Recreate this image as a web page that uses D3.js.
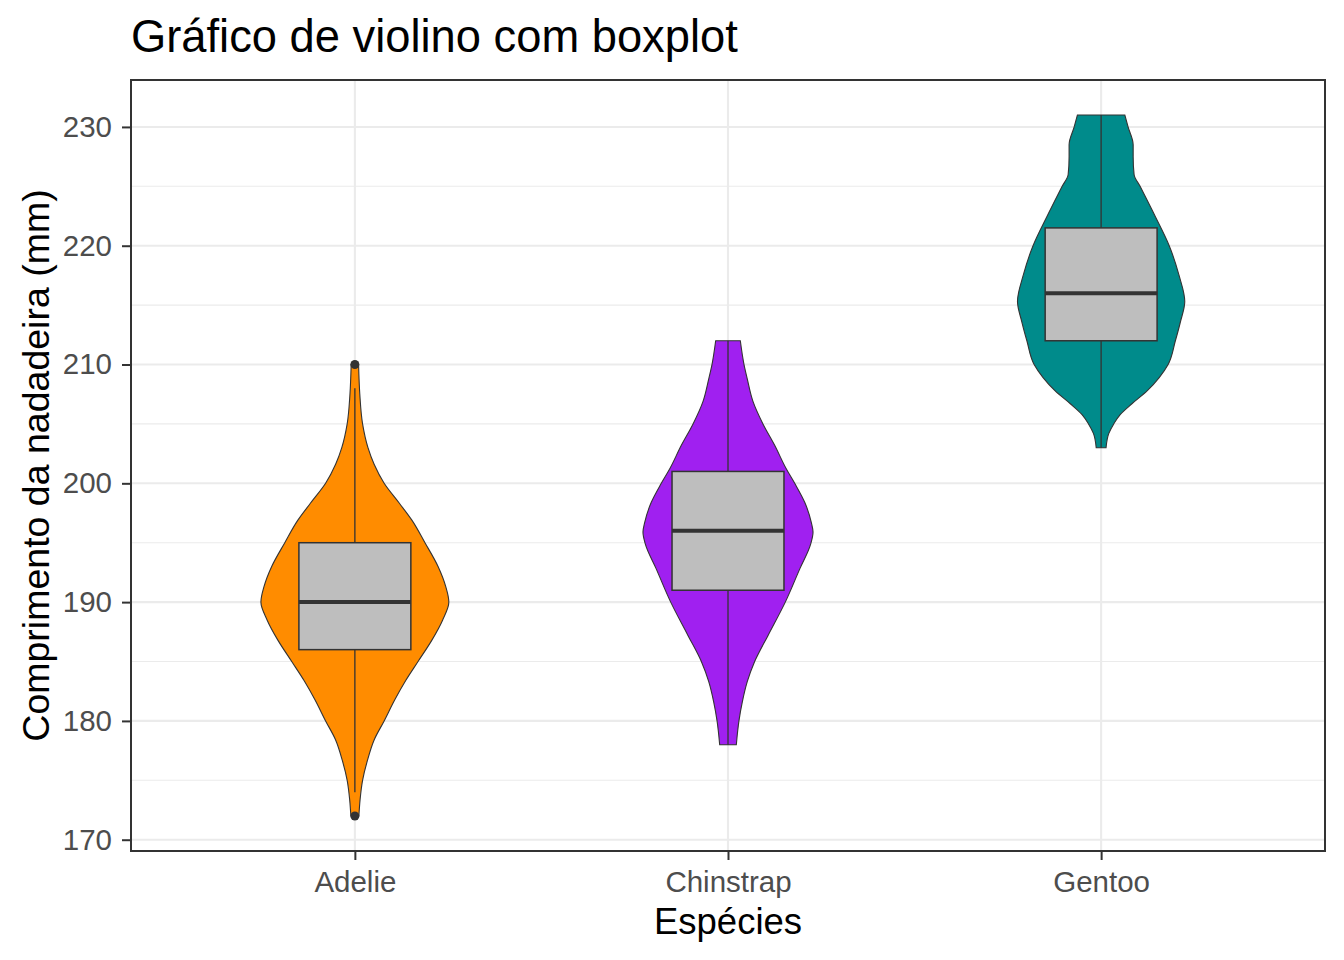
<!DOCTYPE html>
<html lang="pt">
<head>
<meta charset="UTF-8">
<title>Gráfico de violino com boxplot</title>
<script src="https://d3js.org/d3.v7.min.js"></script>
<style>
  body { margin: 0; background: #fff; }
  svg { display: block; font-family: "Liberation Sans", Arial, sans-serif; }
  .grid-major { stroke: #ebebeb; stroke-width: 2.1; }
  .grid-minor { stroke: #ebebeb; stroke-width: 1.1; }
  .tick-label { fill: #4d4d4d; font-size: 29.5px; }
</style>
</head>
<body>
<svg id="chart" width="1344" height="960"></svg>
<script>
// species and colours
const species = ["Adelie", "Chinstrap", "Gentoo"];
const fills = ["#ff8c00", "#a020f0", "#008b8b"];

// boxplot stats
const lowerWhisker = [174, 178, 203];
const q1 = [186, 191, 212];
const median = [190, 196, 216];
const q3 = [195, 201, 221.5];
const upperWhisker = [208, 212, 231];
const outliers = [[172, 210], [], []];

// violin outlines: flipper length and estimated density (x1000)
const adelieY = [172, 173.4, 175, 176.7, 178.4, 180, 181.8, 183.4, 185, 186.8, 188.5, 190, 191.3, 193, 195, 196.9, 198.3, 200, 201.6, 203, 205, 207.5, 210];
const adelieDens = [2.6, 3.4, 5, 8.2, 12.5, 19, 26, 33, 41, 50, 57, 61, 59, 54, 45.5, 37, 29, 19, 12.5, 8.5, 5, 3.2, 2.4];
const chinstrapY = [178, 180, 181.6, 183.3, 185, 187.2, 190, 192.8, 194.9, 195.9, 196.7, 198.4, 200, 201.2, 203.2, 205, 206.9, 208.8, 210, 212];
const chinstrapDens = [5.4, 7.1, 9.3, 12.5, 17.3, 26, 37.2, 46.6, 53.7, 55.2, 54.1, 49.8, 43.3, 37.9, 30.3, 22.7, 16.2, 12.5, 10.4, 8];
const gentooY = [203, 204.2, 205, 205.8, 206.7, 207.8, 208.9, 210, 212, 213.6, 215.3, 217.5, 220, 222.5, 225, 226, 227.5, 228.5, 230, 231];
const gentooDens = [3.2, 5, 8.2, 12.5, 20, 30, 37.7, 43.5, 48.2, 51.5, 54.3, 50.6, 44.2, 35, 25.3, 21.4, 20.8, 20.8, 17.5, 15.4];

const yTicks = [170, 180, 190, 200, 210, 220, 230];
const yMinor = [175, 185, 195, 205, 215, 225];

const violins = [
  d3.zip(adelieY, adelieDens),
  d3.zip(chinstrapY, chinstrapDens),
  d3.zip(gentooY, gentooDens)
];

const svg = d3.select("#chart");
const panel = { left: 131, right: 1325, top: 80, bottom: 851 };

const x = d3.scalePoint().domain(species).range([panel.left, panel.right]).padding(0.6);
const step = x.step();
const dataMin = 172, dataMax = 231, pad = (dataMax - dataMin) * 0.05;
const y = d3.scaleLinear().domain([dataMin - pad, dataMax + pad]).range([panel.bottom, panel.top]);
// density -> half width (violin width 0.9 of a step at the largest density)
const w = d3.scaleLinear().domain([0, 109]).range([0, step * 0.45]);

// grid
const g = svg.append("g");
g.selectAll(".grid-minor").data(yMinor).join("line")
  .attr("class", "grid-minor")
  .attr("x1", panel.left).attr("x2", panel.right)
  .attr("y1", d => y(d)).attr("y2", d => y(d));
g.selectAll(".grid-major.h").data(yTicks).join("line")
  .attr("class", "grid-major h")
  .attr("x1", panel.left).attr("x2", panel.right)
  .attr("y1", d => y(d)).attr("y2", d => y(d));
g.selectAll(".grid-major.v").data(species).join("line")
  .attr("class", "grid-major v")
  .attr("x1", d => x(d)).attr("x2", d => x(d))
  .attr("y1", panel.top).attr("y2", panel.bottom);

// violins
species.forEach((s, i) => {
  const cx = x(s);
  const area = d3.area()
    .y(d => y(d[0]))
    .x0(d => cx - w(d[1]))
    .x1(d => cx + w(d[1]))
    .curve(d3.curveMonotoneY);
  svg.append("path")
    .datum(violins[i])
    .attr("d", area)
    .attr("fill", fills[i])
    .attr("stroke", "#333333")
    .attr("stroke-width", 1.1);
});

// boxplots
const boxW = step * 0.3;
species.forEach((s, i) => {
  const cx = x(s);
  const bg = svg.append("g");
  bg.selectAll("circle").data(outliers[i]).join("circle")
    .attr("cx", cx).attr("cy", d => y(d)).attr("r", 4.5)
    .attr("fill", "#333333");
  bg.append("line").attr("x1", cx).attr("x2", cx)
    .attr("y1", y(q3[i])).attr("y2", y(upperWhisker[i]))
    .attr("stroke", "#333333").attr("stroke-width", 1.3);
  bg.append("line").attr("x1", cx).attr("x2", cx)
    .attr("y1", y(q1[i])).attr("y2", y(lowerWhisker[i]))
    .attr("stroke", "#333333").attr("stroke-width", 1.3);
  bg.append("rect")
    .attr("x", cx - boxW / 2).attr("width", boxW)
    .attr("y", y(q3[i])).attr("height", y(q1[i]) - y(q3[i]))
    .attr("fill", "#bebebe").attr("stroke", "#333333").attr("stroke-width", 1.5);
  bg.append("line")
    .attr("x1", cx - boxW / 2).attr("x2", cx + boxW / 2)
    .attr("y1", y(median[i])).attr("y2", y(median[i]))
    .attr("stroke", "#333333").attr("stroke-width", 4);
});

// panel border
svg.append("rect")
  .attr("x", panel.left).attr("y", panel.top)
  .attr("width", panel.right - panel.left).attr("height", panel.bottom - panel.top)
  .attr("fill", "none").attr("stroke", "#333333").attr("stroke-width", 2);

// axes
const yAxis = svg.append("g")
  .attr("transform", `translate(${panel.left},0)`)
  .call(d3.axisLeft(y).tickValues(yTicks).tickSize(9).tickPadding(10));
const xAxis = svg.append("g")
  .attr("transform", `translate(0,${panel.bottom})`)
  .call(d3.axisBottom(x).tickSize(9).tickPadding(11));
[yAxis, xAxis].forEach(a => {
  a.select(".domain").remove();
  a.selectAll(".tick line").attr("stroke", "#333333").attr("stroke-width", 2);
  a.selectAll(".tick text").attr("class", "tick-label");
  a.attr("font-size", null).attr("font-family", null);
});

// titles
svg.append("text")
  .attr("x", panel.left).attr("y", 52)
  .attr("font-size", 45.3).attr("fill", "#000")
  .text("Gráfico de violino com boxplot");
svg.append("text")
  .attr("x", (panel.left + panel.right) / 2).attr("y", 934)
  .attr("text-anchor", "middle")
  .attr("font-size", 36.5).attr("fill", "#000")
  .text("Espécies");
svg.append("text")
  .attr("transform", `translate(49,${(panel.top + panel.bottom) / 2}) rotate(-90)`)
  .attr("text-anchor", "middle")
  .attr("font-size", 37.5).attr("fill", "#000")
  .text("Comprimento da nadadeira (mm)");
</script>
</body>
</html>
